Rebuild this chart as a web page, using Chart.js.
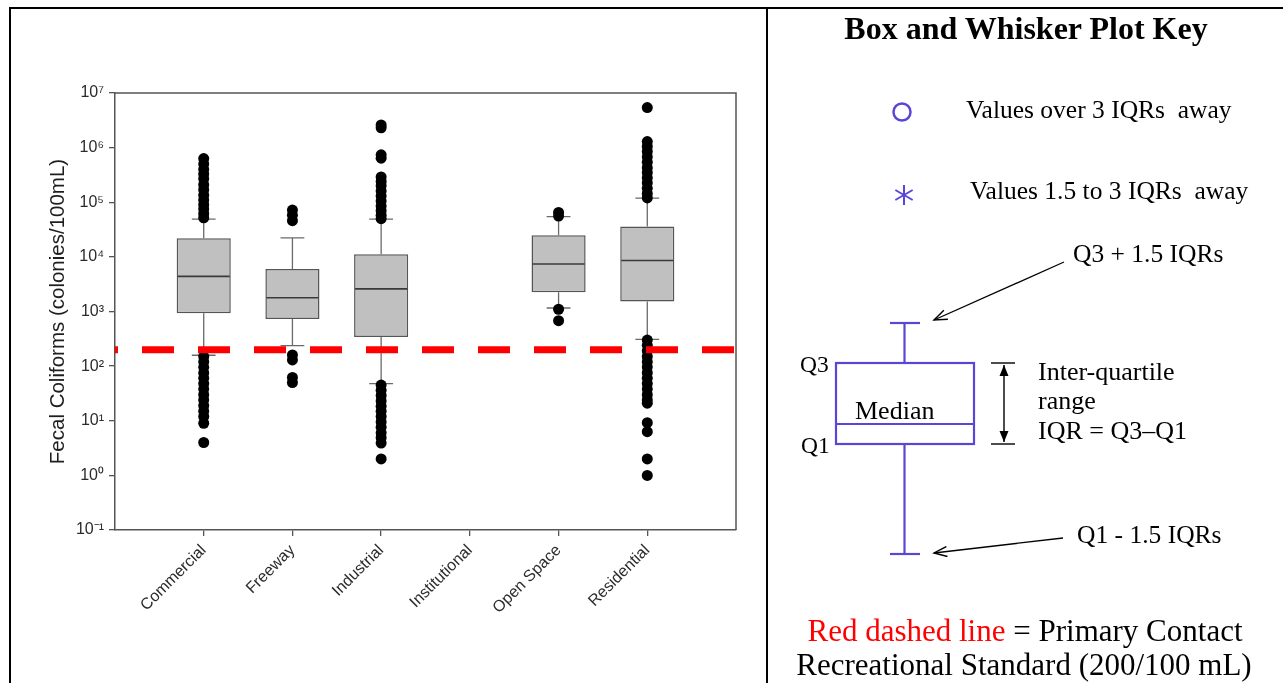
<!DOCTYPE html>
<html>
<head>
<meta charset="utf-8">
<script src="https://cdn.jsdelivr.net/npm/chart.js@4.4.0/dist/chart.umd.min.js"></script>
<style>
  html, body { margin: 0; padding: 0; background: #fff; }
  #page { position: relative; width: 1283px; height: 683px; overflow: hidden; background: #fff; }
  #chartBox { position: absolute; left: 0; top: 0; width: 766px; height: 683px; }
  #key { position: absolute; left: 0; top: 0; }
  .rule { position: absolute; background: #000; }
  #key text { font-family: 'Liberation Serif', 'Times New Roman', serif; fill: #000; white-space: pre; }
</style>
</head>
<body>
<div id="page">
  <div id="chartBox"><canvas id="boxChart" width="766" height="683"></canvas></div>

  <svg id="key" width="1283" height="683" xmlns="http://www.w3.org/2000/svg">
    <defs>
      <marker id="openHead" markerUnits="userSpaceOnUse" markerWidth="16" markerHeight="12" refX="14" refY="6" orient="auto">
        <path d="M1,1 L14,6 L1,11" fill="none" stroke="#000" stroke-width="1.4"/>
      </marker>
      <marker id="solidHead" markerUnits="userSpaceOnUse" markerWidth="12" markerHeight="10" refX="11" refY="5" orient="auto-start-reverse">
        <path d="M0,0.5 L11,5 L0,9.5 z" fill="#000"/>
      </marker>
    </defs>

    <text x="1026" y="39" text-anchor="middle" font-size="32" font-weight="bold">Box and Whisker Plot Key</text>

    <circle cx="902" cy="112" r="8.5" fill="none" stroke="#5a46d6" stroke-width="2.5"/>
    <text x="966" y="118" font-size="25.5">Values over 3 IQRs  away</text>

    <g stroke="#5a46d6" stroke-width="2">
      <line x1="904" y1="185" x2="904" y2="205"/>
      <line x1="895.3" y1="190" x2="912.7" y2="200"/>
      <line x1="895.3" y1="200" x2="912.7" y2="190"/>
    </g>
    <text x="970" y="199" font-size="25.5">Values 1.5 to 3 IQRs  away</text>

    <text x="1073" y="262" font-size="25.5">Q3 + 1.5 IQRs</text>
    <line x1="1064" y1="262" x2="934" y2="320" stroke="#000" stroke-width="1.3" marker-end="url(#openHead)"/>

    <g stroke="#5a46d6" stroke-width="2.2" fill="none">
      <line x1="890" y1="323" x2="920" y2="323"/>
      <line x1="904.5" y1="323" x2="904.5" y2="363"/>
      <rect x="836" y="363" width="138" height="81"/>
      <line x1="836" y1="424" x2="974" y2="424"/>
      <line x1="904.5" y1="444" x2="904.5" y2="554"/>
      <line x1="890" y1="554" x2="920" y2="554"/>
    </g>
    <text x="800" y="372" font-size="23.5">Q3</text>
    <text x="801" y="453" font-size="23.5">Q1</text>
    <text x="855" y="419" font-size="26">Median</text>

    <g stroke="#000" stroke-width="1.4">
      <line x1="991" y1="363" x2="1015" y2="363"/>
      <line x1="991" y1="444" x2="1015" y2="444"/>
      <line x1="1004" y1="365" x2="1004" y2="442" marker-start="url(#solidHead)" marker-end="url(#solidHead)"/>
    </g>
    <text x="1038" y="380" font-size="26">Inter-quartile</text>
    <text x="1038" y="409" font-size="26">range</text>
    <text x="1038" y="439" font-size="26">IQR = Q3–Q1</text>

    <text x="1077" y="543" font-size="25.5">Q1 - 1.5 IQRs</text>
    <line x1="1063" y1="538" x2="934" y2="553" stroke="#000" stroke-width="1.3" marker-end="url(#openHead)"/>

    <text x="1025" y="641" text-anchor="middle" font-size="31"><tspan fill="#ff0000" style="fill:#ff0000">Red dashed line</tspan> = Primary Contact</text>
    <text x="1024" y="675" text-anchor="middle" font-size="31">Recreational Standard (200/100 mL)</text>
  </svg>

  <div class="rule" style="left:9px; top:7px; width:1274px; height:2px;"></div>
  <div class="rule" style="left:9px; top:7px; width:2px; height:676px;"></div>
  <div class="rule" style="left:766px; top:7px; width:2px; height:676px;"></div>
</div>

<script>
// land use categories (Institutional has no samples)
var categories = ['Commercial', 'Freeway', 'Industrial', 'Institutional', 'Open Space', 'Residential'];

// box statistics, colonies/100mL
var q1Values     = [930,   730,   340,   null, 2250,  1520];
var medianValues = [4400,  1780,  2600,  null, 7400,  8600];
var q3Values     = [22000, 6000,  11200, null, 25000, 36000];
var whiskerLow   = [158,   237,   48,    null, 1160,  310];
var whiskerHigh  = [49000, 22300, 49000, null, 54700, 119000];

// points beyond the whiskers
var commercialOutliers = [630000, 500000, 400000, 330000, 270000, 210000, 170000, 135000, 110000, 90000, 75000, 62000, 52000,
                          150, 120, 95, 75, 60, 48, 38, 30, 24, 19, 15, 12, 9, 4];
var freewayOutliers = [72000, 58000, 46000, 160, 130, 62, 50];
var industrialOutliers = [2600000, 2300000, 740000, 640000, 290000, 240000, 200000, 160000, 130000, 105000, 85000, 70000, 58000, 50000,
                          45, 36, 29, 23, 18.5, 15, 12, 9.5, 7.6, 6, 4.9, 3.9, 2];
var institutionalOutliers = [];
var openSpaceOutliers = [65000, 56000, 1100, 680];
var residentialOutliers = [5400000, 1290000, 1050000, 850000, 680000, 540000, 430000, 350000, 280000, 225000, 180000, 145000, 120000,
                           300, 240, 190, 150, 120, 96, 76, 60, 48, 38, 30, 24, 21, 9.2, 6.3, 2, 1];
var outliers = [commercialOutliers, freewayOutliers, industrialOutliers, institutionalOutliers, openSpaceOutliers, residentialOutliers];

// primary contact recreational standard
var standardValue = 200;

var yTickExponents = [-1, 0, 1, 2, 3, 4, 5, 6, 7];
var yTickLabels = ['10⁻¹', '10⁰', '10¹', '10²', '10³', '10⁴', '10⁵', '10⁶', '10⁷'];

Chart.defaults.font.family = "'Liberation Sans', Arial, sans-serif";
Chart.defaults.color = '#2b2b2b';

var boxData = [];
var boxIndex = [];
categories.forEach(function(name, i) {
    if (q1Values[i] === null) return;
    boxData.push({x: i + 1, y: [q1Values[i], q3Values[i]]});
    boxIndex.push(i);
});

var outlierPoints = [];
outliers.forEach(function(list, i) {
    list.forEach(function(v) { outlierPoints.push({x: i + 1, y: v}); });
});

var whiskerPlugin = {
    id: 'whiskers',
    afterDatasetDraw: function(chart, args) {
        if (args.index !== 0) return;
        var ctx = chart.ctx;
        var y = chart.scales.y;
        args.meta.data.forEach(function(bar, j) {
            var i = boxIndex[j];
            var cap = bar.width * 0.22;
            var half = bar.width / 2;
            var yHi = y.getPixelForValue(whiskerHigh[i]);
            var yLo = y.getPixelForValue(whiskerLow[i]);
            ctx.save();
            ctx.strokeStyle = '#6a6a6a';
            ctx.lineWidth = 1.3;
            ctx.beginPath();
            ctx.moveTo(bar.x, y.getPixelForValue(q3Values[i]));
            ctx.lineTo(bar.x, yHi);
            ctx.moveTo(bar.x - cap, yHi);
            ctx.lineTo(bar.x + cap, yHi);
            ctx.moveTo(bar.x, y.getPixelForValue(q1Values[i]));
            ctx.lineTo(bar.x, yLo);
            ctx.moveTo(bar.x - cap, yLo);
            ctx.lineTo(bar.x + cap, yLo);
            ctx.stroke();
            var yMed = y.getPixelForValue(medianValues[i]);
            ctx.strokeStyle = '#3a3a3a';
            ctx.lineWidth = 1.6;
            ctx.beginPath();
            ctx.moveTo(bar.x - half + 1, yMed);
            ctx.lineTo(bar.x + half - 1, yMed);
            ctx.stroke();
            ctx.restore();
        });
    }
};

var framePlugin = {
    id: 'frame',
    beforeDatasetsDraw: function(chart) {
        var a = chart.chartArea;
        var ctx = chart.ctx;
        ctx.save();
        ctx.strokeStyle = '#555';
        ctx.lineWidth = 1.5;
        ctx.beginPath();
        ctx.moveTo(a.left, a.top);
        ctx.lineTo(a.right, a.top);
        ctx.lineTo(a.right, a.bottom);
        ctx.stroke();
        ctx.restore();
    }
};

var ctx = document.getElementById('boxChart');
var boxChart = new Chart(ctx, {
    type: 'bar',
    data: {
        datasets: [{
            type: 'bar',
            data: boxData,
            backgroundColor: '#c0c0c0',
            borderColor: '#555',
            borderWidth: 1.5,
            borderSkipped: false,
            barPercentage: 0.61,
            categoryPercentage: 1,
            order: 3
        }, {
            type: 'scatter',
            data: outlierPoints,
            backgroundColor: '#000',
            borderWidth: 0,
            pointRadius: 5.5,
            order: 2
        }, {
            type: 'line',
            data: [{x: 0, y: standardValue}, {x: categories.length + 1, y: standardValue}],
            borderColor: '#ff0000',
            borderWidth: 7,
            borderDash: [32, 24],
            borderDashOffset: 29,
            pointRadius: 0,
            fill: false,
            order: 1
        }]
    },
    options: {
        responsive: false,
        animation: false,
        layout: { padding: { top: 93, right: 30, bottom: 0, left: 0 } },
        plugins: {
            legend: { display: false },
            tooltip: { enabled: false }
        },
        scales: {
            x: {
                type: 'linear',
                min: 0,
                max: categories.length + 1,
                offset: false,
                grid: { offset: false, drawOnChartArea: false, drawTicks: true, tickLength: 6, color: '#555', lineWidth: 1.3 },
                border: { display: true, color: '#555', width: 1.5 },
                afterBuildTicks: function(scale) {
                    scale.ticks = categories.map(function(c, i) { return {value: i + 1}; });
                },
                afterFit: function(scale) { scale.height = 153; },
                ticks: {
                    autoSkip: false,
                    minRotation: 45,
                    maxRotation: 45,
                    padding: 5,
                    font: { size: 16 },
                    callback: function(value) { return categories[value - 1]; }
                }
            },
            y: {
                type: 'logarithmic',
                min: 0.1,
                max: 10000000,
                grid: { drawOnChartArea: false, drawTicks: true, tickLength: 6, color: '#555', lineWidth: 1.3 },
                border: { display: true, color: '#555', width: 1.5 },
                afterBuildTicks: function(scale) {
                    scale.ticks = yTickExponents.map(function(e) { return {value: Math.pow(10, e)}; });
                },
                afterFit: function(scale) { scale.width = 115; },
                ticks: {
                    padding: 5,
                    font: { size: 16 },
                    callback: function(value) {
                        var e = Math.round(Math.log10(value));
                        return yTickLabels[yTickExponents.indexOf(e)];
                    }
                },
                title: {
                    display: true,
                    text: 'Fecal Coliforms (colonies/100mL)',
                    color: '#1e1e1e',
                    font: { size: 20.5 },
                    padding: { top: 46, bottom: 0 }
                }
            }
        }
    },
    plugins: [framePlugin, whiskerPlugin]
});
</script>
</body>
</html>
